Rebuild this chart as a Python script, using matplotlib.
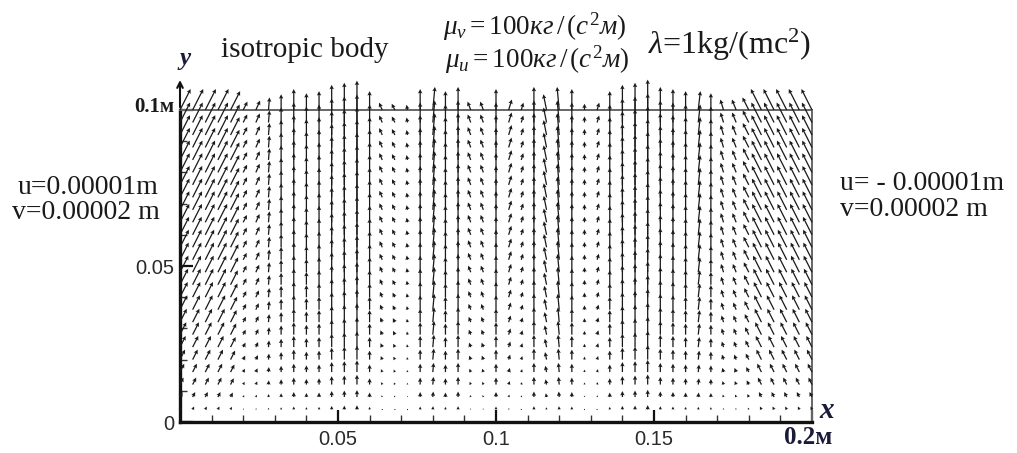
import matplotlib
matplotlib.use("Agg")
import matplotlib.pyplot as plt
import numpy as np

plt.rcParams['mathtext.fontset'] = 'custom'
plt.rcParams['mathtext.rm'] = 'Liberation Serif'
plt.rcParams['mathtext.it'] = 'Liberation Serif:italic'
plt.rcParams['mathtext.bf'] = 'Liberation Serif:bold'

# column positions (m) and the displacement read at the top of each column (x1e-5 m)
x_cols = np.linspace(0.0, 0.2, 51)
u_top = [1.0, 1.0, 1.0, 1.0, 0.9, 0.4, 0.4, 0.1, 0.0, 0.0,
         0.0, 0.0, 0.0, 0.0, 0.0, 0.0, -0.3, -0.3, -0.1, 0.0,
         0.2, 0.0, 0.0, -0.3, -0.3, 0.0, 0.3, 0.2, 0.0, -0.3,
         -0.2, 0.0, 0.0, 0.2, 0.0, 0.0, 0.0, 0.0, 0.0, 0.0,
         0.0, 0.2, 0.0, -0.3, -0.4, -0.6, -1.0, -1.0, -1.0, -1.0,
         -1.0]
v_top = [2.0, 2.0, 2.0, 2.0, 1.8, 0.8, 0.9, 1.2, 1.5, 2.0,
         1.6, 1.8, 2.4, 2.6, 2.8, 1.8, 0.7, 0.6, 0.5, 2.0,
         2.2, 1.8, 2.2, 0.8, 0.8, 2.0, 1.0, 0.7, 2.2, 1.5,
         2.2, 2.0, 0.6, 0.7, 1.8, 2.4, 2.6, 2.9, 2.2, 2.0,
         1.8, 1.8, 1.6, 1.0, 1.0, 1.2, 2.0, 2.0, 2.0, 2.0,
         2.0]
# row positions (m) and how strong the field is there relative to the top
y_rows = np.linspace(0.0, 0.1, 26)
row_scale = [0.0, 0.15, 0.25, 0.35, 0.42, 0.5, 0.56, 0.62, 0.67, 0.72,
             0.76, 0.8, 0.83, 0.86, 0.88, 0.9, 0.92, 0.93, 0.94, 0.95,
             0.96, 0.97, 0.98, 0.99, 1.0, 1.05]

X, Y = np.meshgrid(x_cols, y_rows)
U = np.outer(row_scale, u_top)
V = np.outer(row_scale, v_top)

fig = plt.figure(figsize=(10.17, 4.53), dpi=100)
ax = fig.add_axes([180/1017, 31/453, 632/1017, 312/453])

ax.quiver(X, Y, U, V, angles='xy', scale_units='xy', scale=312.5,
          width=0.002, headwidth=3.5, headlength=3.5, headaxislength=3,
          color='#1a1a1a', clip_on=False, zorder=3)

ax.set_xlim(0, 0.2)
ax.set_ylim(0, 0.1)
for s in ['left', 'bottom']:
    ax.spines[s].set_linewidth(2.4)
    ax.spines[s].set_color('#111111')
for s in ['top', 'right']:
    ax.spines[s].set_linewidth(1.4)
    ax.spines[s].set_color('#666666')

ax.set_xticks([0.05, 0.1, 0.15, 0.2])
ax.set_xticks(np.arange(0.01, 0.2, 0.01), minor=True)
ax.set_yticks([0, 0.05, 0.1])
ax.set_yticks(np.arange(0.01, 0.1, 0.01), minor=True)
ax.tick_params(which='major', direction='in', length=9, width=1.6, color='#111111')
ax.tick_params(which='minor', direction='in', length=5, width=1.0, color='#333333')
ax.set_xticklabels(['0.05', '0.1', '0.15', ''], fontfamily='Liberation Sans',
                   fontsize=14.5, color='#2a2a2a')
ax.set_yticklabels(['0', '0.05', ''], fontfamily='Liberation Sans',
                   fontsize=14.5, color='#2a2a2a')
ax.tick_params(axis='x', pad=6)
ax.tick_params(axis='y', pad=4)

# bold unit tick labels
fig.text(808/1017, 1 - 437/453, '0.2м', fontfamily='Liberation Serif', fontweight='bold',
         fontsize=18, color='#1a1a3a', ha='center', va='center')
fig.text(154/1017, 1 - 107/453, '0.1м', fontfamily='Liberation Serif', fontweight='bold',
         fontsize=15, color='#1a1a1a', ha='center', va='center')

# axis arrow and letters
ax.annotate('', xy=(0, 1.105), xytext=(0, 1.0), xycoords='axes fraction',
            arrowprops=dict(arrowstyle='->', lw=1.5, color='#111111'), annotation_clip=False)
fig.text(185/1017, 1 - 58/453, 'y', fontfamily='Liberation Serif', fontstyle='italic',
         fontweight='bold', fontsize=18, color='#1a1a3a', ha='center', va='center')
fig.text(827/1017, 1 - 410/453, 'x', fontfamily='Liberation Serif', fontstyle='italic',
         fontweight='bold', fontsize=21, color='#1a1a3a', ha='center', va='center')

serif = 'Liberation Serif'
fig.text(305/1017, 1 - 50/453, 'isotropic body', fontfamily=serif, fontsize=21,
         color='#1a1a1a', ha='center', va='center')
fig.text(535/1017, 1 - 27/453, r'$\mu_{v}=100\mathit{кг}\,/\,(\mathit{с}^{2}\mathit{м})$',
         fontsize=19.5, color='#1a1a1a', ha='center', va='center')
fig.text(537/1017, 1 - 60/453, r'$\mu_{u}=100\mathit{кг}\,/\,(\mathit{с}^{2}\mathit{м})$',
         fontsize=19.5, color='#1a1a1a', ha='center', va='center')
fig.text(729/1017, 1 - 45/453, r'$\mathit{\lambda}$=1kg/(mc$^2$)', fontfamily=serif,
         fontsize=23, color='#1a1a1a', ha='center', va='center')

fig.text(88/1017, 1 - 188/453, 'u=0.00001m', fontfamily=serif, fontsize=20,
         color='#1a1a1a', ha='center', va='center')
fig.text(86/1017, 1 - 213/453, 'v=0.00002 m', fontfamily=serif, fontsize=20,
         color='#1a1a1a', ha='center', va='center')
fig.text(922/1017, 1 - 183/453, 'u= - 0.00001m', fontfamily=serif, fontsize=20,
         color='#1a1a1a', ha='center', va='center')
fig.text(914/1017, 1 - 209/453, 'v=0.00002 m', fontfamily=serif, fontsize=20,
         color='#1a1a1a', ha='center', va='center')

fig.savefig('out.png', dpi=100)
